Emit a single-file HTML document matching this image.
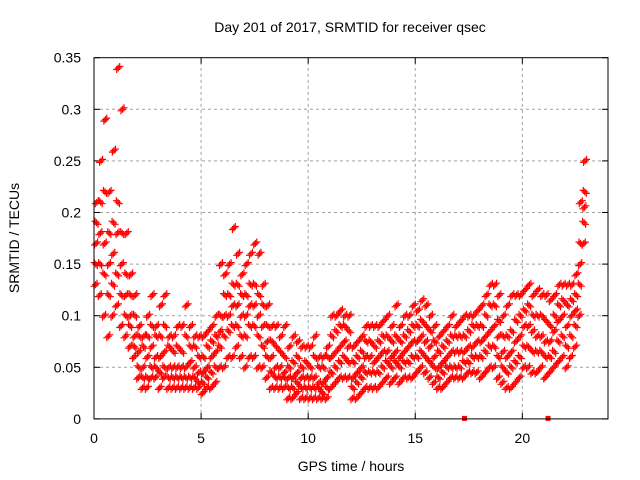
<!DOCTYPE html>
<html><head><meta charset="utf-8"><style>
html,body{margin:0;padding:0;background:#fff}
svg{display:block;font-family:"Liberation Sans",sans-serif}
</style></head><body>
<svg id="chart" width="640" height="480" viewBox="0 0 640 480">
<rect x="0" y="0" width="640" height="480" fill="#fff"/>
<text x="350" y="32" font-size="14" text-anchor="middle" fill="#000">Day 201 of 2017, SRMTID for receiver qsec</text>
<text x="351" y="471" font-size="14" text-anchor="middle" fill="#000">GPS time / hours</text>
<text x="19" y="238" font-size="14" text-anchor="middle" fill="#000" transform="rotate(-90 19 238)">SRMTID / TECUs</text>
<g id="grid"></g>
<g id="ticks"></g>
<g id="marks"></g>
<rect x="94" y="57.7" width="514" height="361.2" fill="none" stroke="#000" stroke-width="1"/>
</svg>
<script>
const xTicks=[0,5,10,15,20];
const yTicks=[0,0.05,0.1,0.15,0.2,0.25,0.3,0.35];
const yTickLabels=["0","0.05","0.1","0.15","0.2","0.25","0.3","0.35"];
const gapMarks=[17.3,21.2];
const seriesLo=[.13,.12,.10,.08,.10, .11,.09,.08,.07,.06, .04,.03,.03,.04,.04, .03,.04,.03,.03,.03, .03,.03,.03,.03,.03, .025,.03,.03,.035,.05, .05,.06,.06,.07,.06, .05,.06,.06,.05,.05, .04,.03,.03,.03,.03, .02,.02,.025,.02,.02, .02,.02,.02,.02,.02, .03,.035,.04,.04,.04, .02,.02,.025,.03,.03, .03,.03,.035,.04,.035, .04,.035,.04,.04,.04, .045,.05,.045,.04,.035, .03,.03,.035,.04,.04, .04,.04,.045,.045,.045, .04,.045,.05,.05,.04, .035,.03,.03,.035,.04, .05,.05,.045,.045,.05, .04,.045,.05,.055,.06, .05,.06,.07,.10,.17];
const seriesQ1=[.15,.15,.14,.12,.13, .14,.12,.10,.09,.07, .05,.04,.04,.05,.05, .045,.05,.04,.04,.04, .04,.04,.04,.04,.035, .035,.04,.045,.05,.07, .08,.085,.09,.09,.08, .08,.09,.09,.08,.07, .06,.045,.04,.04,.04, .03,.03,.035,.03,.03, .03,.03,.03,.025,.03, .045,.05,.055,.06,.055, .03,.035,.04,.045,.045, .045,.045,.05,.055,.05, .055,.05,.055,.055,.06, .06,.065,.06,.055,.05, .04,.045,.05,.05,.05, .05,.055,.055,.06,.06, .06,.065,.07,.07,.06, .05,.045,.05,.055,.06, .07,.07,.065,.065,.065, .06,.06,.065,.075,.08, .07,.08,.09,.13,.19];
const seriesMid=[.17,.18,.17,.15,.16, .18,.15,.12,.10,.08, .065,.05,.06,.07,.06, .06,.065,.05,.05,.05, .05,.05,.055,.05,.045, .045,.05,.06,.065,.085, .10,.10,.11,.11,.10, .10,.11,.11,.10,.09, .075,.06,.05,.05,.045, .04,.04,.045,.04,.04, .04,.04,.035,.035,.04, .06,.065,.07,.075,.07, .04,.045,.05,.06,.06, .055,.06,.065,.065,.06, .065,.06,.065,.07,.075, .075,.08,.075,.07,.06, .05,.055,.06,.065,.065, .065,.065,.07,.07,.075, .075,.08,.085,.09,.08, .065,.06,.065,.075,.08, .09,.09,.085,.08,.08, .075,.075,.085,.095,.10, .09,.10,.105,.15,.205];
const seriesQ3=[.19,.21,.22,.18,.19, .21,.18,.14,.12,.10, .08,.07,.08,.09,.08, .08,.09,.07,.065,.07, .065,.08,.07,.07,.06, .06,.07,.075,.08,.10, .12,.12,.13,.13,.12, .12,.13,.13,.12,.11, .09,.075,.07,.065,.06, .05,.055,.06,.05,.055, .05,.06,.05,.05,.06, .08,.085,.09,.09,.085, .055,.06,.065,.075,.075, .07,.075,.08,.08,.075, .08,.075,.08,.085,.09, .09,.095,.09,.085,.075, .065,.07,.075,.08,.08, .08,.08,.085,.09,.09, .09,.10,.11,.11,.095, .08,.08,.085,.095,.10, .105,.11,.10,.10,.10, .095,.09,.10,.11,.115, .11,.115,.12,.17,.22];
const seriesHi=[.21,.25,.29,.22,.26, .34,.30,.18,.14,.12, .09,.08,.10,.12,.09, .11,.12,.08,.08,.09, .09,.11,.09,.08,.08, .08,.085,.09,.10,.15, .14,.15,.185,.16,.14, .15,.16,.17,.16,.13, .11,.09,.09,.08,.09, .07,.08,.075,.07,.07, .07,.08,.06,.06,.07, .10,.10,.105,.10,.10, .07,.075,.08,.09,.09, .09,.09,.095,.10,.09, .11,.09,.10,.10,.11, .105,.115,.11,.10,.09, .08,.085,.09,.10,.09, .095,.10,.10,.10,.105, .11,.12,.13,.13,.12, .10,.11,.12,.12,.12, .125,.13,.12,.125,.12, .12,.115,.12,.13,.13, .13,.13,.14,.21,.25];
const allSeries=[seriesLo,seriesQ1,seriesMid,seriesQ3,seriesHi];
const timeStep=0.2;

const X0=94,X1=608,Y0=418.9,Y1=57.7,XMAX=24,YMAX=0.35;
const xs=t=>X0+(X1-X0)*t/XMAX;
const ys=v=>Y0-(Y0-Y1)*v/YMAX;
const NS="http://www.w3.org/2000/svg";
function mk(tag,attrs,parent){const e=document.createElementNS(NS,tag);for(const k in attrs)e.setAttribute(k,attrs[k]);parent.appendChild(e);return e;}
const grid=document.getElementById('grid'),ticks=document.getElementById('ticks'),marks=document.getElementById('marks');
xTicks.forEach(t=>{const x=xs(t);
 if(t>0){const g=mk('line',{x1:x,y1:Y0,x2:x,y2:Y1,stroke:'#a0a0a0','stroke-dasharray':'3,3','stroke-width':1},grid);
 
 }
 mk('line',{x1:x,y1:Y0,x2:x,y2:Y0-6,stroke:'#000'},ticks);
 mk('line',{x1:x,y1:Y1,x2:x,y2:Y1+6,stroke:'#000'},ticks);
 const l=mk('text',{x:x,y:443,'font-size':14,'text-anchor':'middle',fill:'#000'},ticks);l.textContent=String(t);
 
 
});
yTicks.forEach((v,i)=>{const y=ys(v);
 if(v>0&&v<YMAX){const g=mk('line',{x1:X0,y1:y,x2:X1,y2:y,stroke:'#a0a0a0','stroke-dasharray':'3,3','stroke-width':1},grid);
 
 }
 mk('line',{x1:X0,y1:y,x2:X0+6,y2:y,stroke:'#000'},ticks);
 mk('line',{x1:X1,y1:y,x2:X1-6,y2:y,stroke:'#000'},ticks);
 const l=mk('text',{x:81,y:y+5,'font-size':14,'text-anchor':'end',fill:'#000'},ticks);l.textContent=yTickLabels[i];
 
 
});
let d='';
const reps=[0,0.07,0.14];
allSeries.forEach((s,k)=>{s.forEach((v,i)=>{reps.forEach((o,j)=>{
 const x=xs(i*timeStep+k*0.015+o),y=ys(v)+(j-1)*(k%2?1.5:-1.5);
 d+=`M${(x-3.5).toFixed(1)} ${y.toFixed(1)}h7M${x.toFixed(1)} ${(y-3.5).toFixed(1)}v7`;});});});
const p=mk('path',{d:d,stroke:'#ff0000','stroke-width':1.2,fill:'none'},marks);


gapMarks.forEach(t=>{const r=mk('rect',{x:xs(t)-2.5,y:Y0-3,width:5,height:5,fill:'#ff0000'},marks);
 
 });
</script>
</body></html>
